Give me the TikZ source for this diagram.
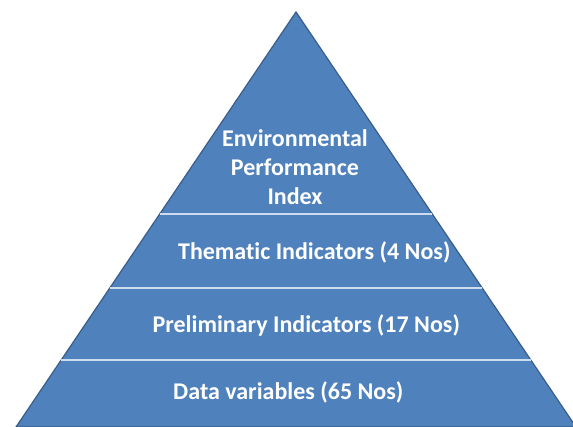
\documentclass[tikz,border=0pt]{standalone}
\usepackage{fontspec}
\setmainfont{Carlito}[Ligatures = NoCommon]
\usetikzlibrary{calc}
\definecolor{pyrfill}{RGB}{79,129,189}
\definecolor{pyredge}{RGB}{56,93,138}
\definecolor{pyrsep}{RGB}{205,220,238}
\tikzset{
	lbl/.style = {text = white, font = \bfseries\fontsize{24}{29}\selectfont, align = center, inner sep = 0pt}
}
\begin{document}
\begin{tikzpicture}[x = 1pt, y = -1pt]
		\useasboundingbox (0,0) rectangle (573,427);
		\coordinate (top) at (296,12);
		\coordinate (bl) at (16,427);
		\coordinate (br) at (576,427);
		\draw [pyredge, fill = pyrfill, line width = 1.2pt] (bl) -- (top) -- (br) -- cycle;
		%
		\foreach \y in {214,288,360}{
				\pgfmathsetmacro{\t}{(\y-12)/415}
				\draw [pyrsep, line width = 1.5pt] ($(top)!\t!(bl)$) -- ($(top)!\t!(br)$);
			}
		%
		\node (epi) [lbl] at (295,167){Environmental\\Performance\\Index
		};
		\node (thematic) [lbl] at (317,252){Thematic Indicators (4 Nos)
		};
		\node (prelim) [lbl] at (309,325){Preliminary Indicators (17 Nos)
		};
		\node (data) [lbl] at (291,392){Data variables (65 Nos)
		};
	\end{tikzpicture}
\end{document}
